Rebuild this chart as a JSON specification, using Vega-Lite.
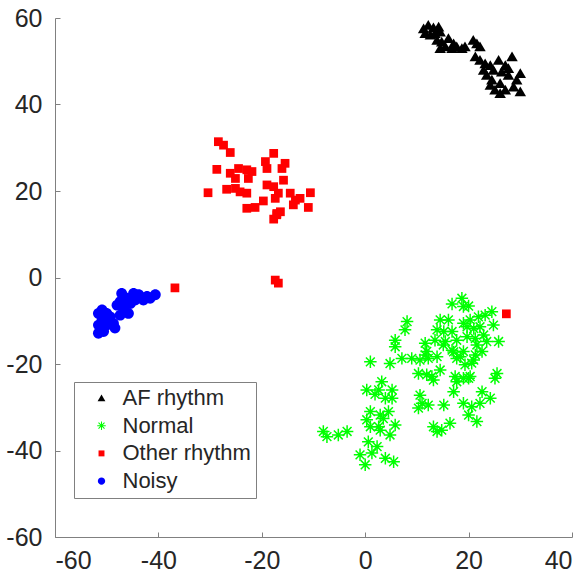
{
  "$schema": "https://vega.github.io/schema/vega-lite/v6.json",
  "width": 517,
  "height": 519,
  "autosize": {"type": "none"},
  "padding": {"left": 55, "top": 18, "right": 16, "bottom": 37},
  "background": "white",
  "config": {
    "view": {"stroke": null},
    "font": "Liberation Sans",
    "axis": {
      "domainColor": "#808080",
      "domainWidth": 1,
      "tickColor": "#808080",
      "tickWidth": 1,
      "tickSize": -5,
      "labelFontSize": 25,
      "labelColor": "#262626",
      "labelFont": "Liberation Sans",
      "labelExpr": "'' + datum.value",
      "grid": false,
      "title": null
    }
  },
  "data": {
    "values": [
      {"x": 11.3, "y": 57.6, "c": "AF rhythm"},
      {"x": 12.2, "y": 58.4, "c": "AF rhythm"},
      {"x": 13.2, "y": 57.8, "c": "AF rhythm"},
      {"x": 14.2, "y": 58.0, "c": "AF rhythm"},
      {"x": 11.6, "y": 56.5, "c": "AF rhythm"},
      {"x": 12.6, "y": 56.1, "c": "AF rhythm"},
      {"x": 13.5, "y": 56.5, "c": "AF rhythm"},
      {"x": 14.5, "y": 56.8, "c": "AF rhythm"},
      {"x": 13.9, "y": 54.9, "c": "AF rhythm"},
      {"x": 14.8, "y": 54.5, "c": "AF rhythm"},
      {"x": 14.5, "y": 53.0, "c": "AF rhythm"},
      {"x": 15.5, "y": 53.4, "c": "AF rhythm"},
      {"x": 16.1, "y": 55.3, "c": "AF rhythm"},
      {"x": 17.1, "y": 54.1, "c": "AF rhythm"},
      {"x": 17.7, "y": 53.4, "c": "AF rhythm"},
      {"x": 18.7, "y": 53.0, "c": "AF rhythm"},
      {"x": 19.3, "y": 53.4, "c": "AF rhythm"},
      {"x": 20.9, "y": 54.9, "c": "AF rhythm"},
      {"x": 21.6, "y": 54.1, "c": "AF rhythm"},
      {"x": 22.2, "y": 53.4, "c": "AF rhythm"},
      {"x": 21.3, "y": 51.1, "c": "AF rhythm"},
      {"x": 22.2, "y": 50.3, "c": "AF rhythm"},
      {"x": 23.2, "y": 49.5, "c": "AF rhythm"},
      {"x": 24.2, "y": 49.1, "c": "AF rhythm"},
      {"x": 22.9, "y": 48.0, "c": "AF rhythm"},
      {"x": 23.5, "y": 46.8, "c": "AF rhythm"},
      {"x": 24.5, "y": 45.7, "c": "AF rhythm"},
      {"x": 24.2, "y": 44.5, "c": "AF rhythm"},
      {"x": 25.1, "y": 43.4, "c": "AF rhythm"},
      {"x": 26.1, "y": 44.9, "c": "AF rhythm"},
      {"x": 25.8, "y": 50.3, "c": "AF rhythm"},
      {"x": 27.1, "y": 49.1, "c": "AF rhythm"},
      {"x": 28.4, "y": 51.1, "c": "AF rhythm"},
      {"x": 27.7, "y": 46.8, "c": "AF rhythm"},
      {"x": 29.3, "y": 45.7, "c": "AF rhythm"},
      {"x": 30.0, "y": 47.2, "c": "AF rhythm"},
      {"x": 28.7, "y": 44.1, "c": "AF rhythm"},
      {"x": 30.0, "y": 43.0, "c": "AF rhythm"},
      {"x": 27.1, "y": 43.4, "c": "AF rhythm"},
      {"x": 26.1, "y": 42.6, "c": "AF rhythm"},
      {"x": 27.7, "y": 48.4, "c": "AF rhythm"},
      {"x": 26.4, "y": 47.6, "c": "AF rhythm"},
      {"x": 24.8, "y": 48.0, "c": "AF rhythm"},
      {"x": 16.8, "y": 53.0, "c": "AF rhythm"},
      {"x": 16.8, "y": -6.1, "c": "Normal"},
      {"x": 18.7, "y": -4.8, "c": "Normal"},
      {"x": 19.0, "y": -6.7, "c": "Normal"},
      {"x": 20.0, "y": -6.6, "c": "Normal"},
      {"x": 24.5, "y": -7.9, "c": "Normal"},
      {"x": 23.2, "y": -8.7, "c": "Normal"},
      {"x": 21.9, "y": -9.1, "c": "Normal"},
      {"x": 20.3, "y": -9.8, "c": "Normal"},
      {"x": 19.0, "y": -10.6, "c": "Normal"},
      {"x": 8.1, "y": -10.2, "c": "Normal"},
      {"x": 7.7, "y": -12.1, "c": "Normal"},
      {"x": 14.5, "y": -9.8, "c": "Normal"},
      {"x": 16.1, "y": -9.8, "c": "Normal"},
      {"x": 13.9, "y": -12.1, "c": "Normal"},
      {"x": 15.2, "y": -12.5, "c": "Normal"},
      {"x": 16.8, "y": -12.5, "c": "Normal"},
      {"x": 19.7, "y": -11.4, "c": "Normal"},
      {"x": 21.0, "y": -11.8, "c": "Normal"},
      {"x": 22.2, "y": -11.4, "c": "Normal"},
      {"x": 24.8, "y": -11.0, "c": "Normal"},
      {"x": 5.8, "y": -14.5, "c": "Normal"},
      {"x": 5.8, "y": -16.0, "c": "Normal"},
      {"x": 11.6, "y": -15.2, "c": "Normal"},
      {"x": 13.5, "y": -14.5, "c": "Normal"},
      {"x": 15.5, "y": -14.8, "c": "Normal"},
      {"x": 17.7, "y": -14.5, "c": "Normal"},
      {"x": 19.7, "y": -13.7, "c": "Normal"},
      {"x": 21.3, "y": -14.1, "c": "Normal"},
      {"x": 22.9, "y": -13.3, "c": "Normal"},
      {"x": 23.5, "y": -14.8, "c": "Normal"},
      {"x": 25.8, "y": -14.8, "c": "Normal"},
      {"x": 21.6, "y": -15.6, "c": "Normal"},
      {"x": 22.6, "y": -17.1, "c": "Normal"},
      {"x": 1.0, "y": -19.5, "c": "Normal"},
      {"x": 4.8, "y": -19.9, "c": "Normal"},
      {"x": 7.1, "y": -18.7, "c": "Normal"},
      {"x": 9.0, "y": -18.7, "c": "Normal"},
      {"x": 10.6, "y": -19.1, "c": "Normal"},
      {"x": 12.2, "y": -18.7, "c": "Normal"},
      {"x": 13.9, "y": -18.3, "c": "Normal"},
      {"x": 11.9, "y": -17.1, "c": "Normal"},
      {"x": 16.8, "y": -16.8, "c": "Normal"},
      {"x": 19.0, "y": -17.1, "c": "Normal"},
      {"x": 17.7, "y": -18.7, "c": "Normal"},
      {"x": 21.0, "y": -19.1, "c": "Normal"},
      {"x": 19.3, "y": -20.2, "c": "Normal"},
      {"x": 10.3, "y": -22.2, "c": "Normal"},
      {"x": 11.9, "y": -22.5, "c": "Normal"},
      {"x": 13.2, "y": -23.7, "c": "Normal"},
      {"x": 14.5, "y": -21.4, "c": "Normal"},
      {"x": 17.4, "y": -22.9, "c": "Normal"},
      {"x": 19.0, "y": -23.3, "c": "Normal"},
      {"x": 20.3, "y": -22.9, "c": "Normal"},
      {"x": 17.7, "y": -24.1, "c": "Normal"},
      {"x": 25.5, "y": -22.2, "c": "Normal"},
      {"x": 25.1, "y": -23.3, "c": "Normal"},
      {"x": 0.3, "y": -26.0, "c": "Normal"},
      {"x": 3.2, "y": -24.1, "c": "Normal"},
      {"x": 2.6, "y": -26.0, "c": "Normal"},
      {"x": 5.2, "y": -26.0, "c": "Normal"},
      {"x": 3.9, "y": -27.9, "c": "Normal"},
      {"x": 5.2, "y": -27.9, "c": "Normal"},
      {"x": 10.6, "y": -27.2, "c": "Normal"},
      {"x": 11.0, "y": -29.1, "c": "Normal"},
      {"x": 10.3, "y": -30.2, "c": "Normal"},
      {"x": 12.2, "y": -29.5, "c": "Normal"},
      {"x": 15.2, "y": -29.5, "c": "Normal"},
      {"x": 17.1, "y": -26.4, "c": "Normal"},
      {"x": 19.0, "y": -29.1, "c": "Normal"},
      {"x": 20.6, "y": -29.9, "c": "Normal"},
      {"x": 22.6, "y": -26.4, "c": "Normal"},
      {"x": 22.2, "y": -29.1, "c": "Normal"},
      {"x": 24.2, "y": -27.9, "c": "Normal"},
      {"x": 20.0, "y": -31.8, "c": "Normal"},
      {"x": 21.6, "y": -33.3, "c": "Normal"},
      {"x": 1.0, "y": -31.0, "c": "Normal"},
      {"x": 2.9, "y": -31.8, "c": "Normal"},
      {"x": 4.5, "y": -31.0, "c": "Normal"},
      {"x": 0.3, "y": -32.9, "c": "Normal"},
      {"x": 3.5, "y": -32.6, "c": "Normal"},
      {"x": 5.8, "y": -34.1, "c": "Normal"},
      {"x": 4.8, "y": -36.4, "c": "Normal"},
      {"x": 1.0, "y": -34.5, "c": "Normal"},
      {"x": 2.6, "y": -34.5, "c": "Normal"},
      {"x": 13.2, "y": -34.5, "c": "Normal"},
      {"x": 14.8, "y": -35.3, "c": "Normal"},
      {"x": 16.4, "y": -33.7, "c": "Normal"},
      {"x": 13.9, "y": -35.6, "c": "Normal"},
      {"x": -8.1, "y": -35.6, "c": "Normal"},
      {"x": -7.4, "y": -36.8, "c": "Normal"},
      {"x": -5.2, "y": -36.4, "c": "Normal"},
      {"x": -3.5, "y": -35.6, "c": "Normal"},
      {"x": 0.6, "y": -38.0, "c": "Normal"},
      {"x": 2.3, "y": -39.1, "c": "Normal"},
      {"x": 1.3, "y": -40.6, "c": "Normal"},
      {"x": -1.0, "y": -41.0, "c": "Normal"},
      {"x": 0.0, "y": -43.3, "c": "Normal"},
      {"x": 3.9, "y": -41.8, "c": "Normal"},
      {"x": 5.5, "y": -42.6, "c": "Normal"},
      {"x": 1.9, "y": -27.0, "c": "Normal"},
      {"x": 2.9, "y": -35.3, "c": "Normal"},
      {"x": 11.6, "y": -17.9, "c": "Normal"},
      {"x": 15.1, "y": -15.6, "c": "Normal"},
      {"x": 17.1, "y": -17.2, "c": "Normal"},
      {"x": 18.4, "y": -18.3, "c": "Normal"},
      {"x": 21.3, "y": -17.9, "c": "Normal"},
      {"x": 20.6, "y": -19.8, "c": "Normal"},
      {"x": 12.9, "y": -22.9, "c": "Normal"},
      {"x": 20.0, "y": -23.3, "c": "Normal"},
      {"x": -28.4, "y": 31.4, "c": "Other rhythm"},
      {"x": -27.4, "y": 30.6, "c": "Other rhythm"},
      {"x": -26.1, "y": 28.9, "c": "Other rhythm"},
      {"x": -17.7, "y": 28.7, "c": "Other rhythm"},
      {"x": -19.3, "y": 26.8, "c": "Other rhythm"},
      {"x": -15.5, "y": 26.4, "c": "Other rhythm"},
      {"x": -28.7, "y": 25.0, "c": "Other rhythm"},
      {"x": -26.1, "y": 24.1, "c": "Other rhythm"},
      {"x": -24.5, "y": 25.2, "c": "Other rhythm"},
      {"x": -22.9, "y": 24.9, "c": "Other rhythm"},
      {"x": -21.9, "y": 24.5, "c": "Other rhythm"},
      {"x": -19.0, "y": 25.2, "c": "Other rhythm"},
      {"x": -16.1, "y": 25.2, "c": "Other rhythm"},
      {"x": -22.6, "y": 22.9, "c": "Other rhythm"},
      {"x": -25.1, "y": 22.9, "c": "Other rhythm"},
      {"x": -15.8, "y": 22.5, "c": "Other rhythm"},
      {"x": -19.0, "y": 21.4, "c": "Other rhythm"},
      {"x": -17.7, "y": 21.0, "c": "Other rhythm"},
      {"x": -26.8, "y": 20.4, "c": "Other rhythm"},
      {"x": -25.1, "y": 20.6, "c": "Other rhythm"},
      {"x": -24.2, "y": 19.8, "c": "Other rhythm"},
      {"x": -30.4, "y": 19.6, "c": "Other rhythm"},
      {"x": -16.8, "y": 19.5, "c": "Other rhythm"},
      {"x": -14.5, "y": 19.5, "c": "Other rhythm"},
      {"x": -10.6, "y": 19.6, "c": "Other rhythm"},
      {"x": -13.5, "y": 17.9, "c": "Other rhythm"},
      {"x": -12.6, "y": 18.3, "c": "Other rhythm"},
      {"x": -17.4, "y": 18.3, "c": "Other rhythm"},
      {"x": -22.9, "y": 19.5, "c": "Other rhythm"},
      {"x": -22.9, "y": 16.0, "c": "Other rhythm"},
      {"x": -21.3, "y": 16.2, "c": "Other rhythm"},
      {"x": -19.7, "y": 17.7, "c": "Other rhythm"},
      {"x": -13.9, "y": 16.8, "c": "Other rhythm"},
      {"x": -11.0, "y": 16.2, "c": "Other rhythm"},
      {"x": -17.1, "y": 14.5, "c": "Other rhythm"},
      {"x": -16.4, "y": 15.2, "c": "Other rhythm"},
      {"x": -17.7, "y": 13.5, "c": "Other rhythm"},
      {"x": -17.1, "y": 14.8, "c": "Other rhythm"},
      {"x": -17.4, "y": -0.6, "c": "Other rhythm"},
      {"x": -16.8, "y": -1.3, "c": "Other rhythm"},
      {"x": -36.8, "y": -2.4, "c": "Other rhythm"},
      {"x": 27.3, "y": -8.4, "c": "Other rhythm"},
      {"x": -51.6, "y": -12.9, "c": "Noisy"},
      {"x": -50.6, "y": -12.5, "c": "Noisy"},
      {"x": -51.6, "y": -11.0, "c": "Noisy"},
      {"x": -50.9, "y": -9.8, "c": "Noisy"},
      {"x": -51.6, "y": -8.3, "c": "Noisy"},
      {"x": -50.9, "y": -7.5, "c": "Noisy"},
      {"x": -50.0, "y": -8.3, "c": "Noisy"},
      {"x": -49.3, "y": -9.1, "c": "Noisy"},
      {"x": -48.7, "y": -10.6, "c": "Noisy"},
      {"x": -50.0, "y": -11.0, "c": "Noisy"},
      {"x": -49.7, "y": -9.8, "c": "Noisy"},
      {"x": -48.0, "y": -6.4, "c": "Noisy"},
      {"x": -47.4, "y": -5.6, "c": "Noisy"},
      {"x": -47.1, "y": -3.7, "c": "Noisy"},
      {"x": -46.7, "y": -7.1, "c": "Noisy"},
      {"x": -45.8, "y": -8.3, "c": "Noisy"},
      {"x": -45.4, "y": -6.0, "c": "Noisy"},
      {"x": -44.8, "y": -3.7, "c": "Noisy"},
      {"x": -43.8, "y": -4.0, "c": "Noisy"},
      {"x": -44.5, "y": -5.2, "c": "Noisy"},
      {"x": -42.9, "y": -5.2, "c": "Noisy"},
      {"x": -42.2, "y": -4.4, "c": "Noisy"},
      {"x": -40.6, "y": -4.0, "c": "Noisy"},
      {"x": -41.6, "y": -4.8, "c": "Noisy"},
      {"x": -48.4, "y": -11.7, "c": "Noisy"},
      {"x": -47.4, "y": -8.7, "c": "Noisy"},
      {"x": -46.1, "y": -4.8, "c": "Noisy"}
    ]
  },
  "mark": {"type": "point", "filled": true, "opacity": 1, "size": 156, "strokeWidth": 0},
  "encoding": {
    "x": {
      "field": "x", "type": "quantitative",
      "scale": {"domain": [-60, 40], "nice": false, "zero": false},
      "axis": {"values": [-60, -40, -20, 0, 20, 40], "labelPadding": 16}
    },
    "y": {
      "field": "y", "type": "quantitative",
      "scale": {"domain": [-60, 60], "nice": false, "zero": false},
      "axis": {"values": [-60, -40, -20, 0, 20, 40, 60], "labelPadding": 18}
    },
    "color": {
      "field": "c", "type": "nominal",
      "scale": {
        "domain": ["AF rhythm", "Normal", "Other rhythm", "Noisy"],
        "range": ["#000000", "#00ff00", "#ff0000", "#0000ff"]
      },
      "legend": {
        "title": null, "orient": "none", "legendX": 19, "legendY": 364,
        "labelFontSize": 22, "labelColor": "#262626", "labelFont": "Liberation Sans",
        "symbolSize": 72, "symbolStrokeWidth": 0, "symbolOffset": 11.5, "labelOffset": 10,
        "padding": 5, "rowPadding": 5.7, "strokeColor": "#808080", "fillColor": "white",
        "cornerRadius": 0
      }
    },
    "shape": {
      "field": "c", "type": "nominal",
      "scale": {
        "domain": ["AF rhythm", "Normal", "Other rhythm", "Noisy"],
        "range": [
          "M0,-0.8L0.92,0.76L-0.92,0.76Z",
          "M-1,-0.12H1V0.12H-1ZM-0.12,-1H0.12V1H-0.12ZM-0.622,-0.792L0.792,0.622L0.622,0.792L-0.792,-0.622ZM-0.792,0.622L0.622,-0.792L0.792,-0.622L-0.622,0.792Z",
          "M-0.7,-0.7H0.7V0.7H-0.7Z",
          "M-0.87,0A0.87,0.87,0,1,0,0.87,0A0.87,0.87,0,1,0,-0.87,0Z"
        ]
      },
      "legend": {
        "title": null, "orient": "none", "legendX": 19, "legendY": 364,
        "labelFontSize": 22, "labelColor": "#262626", "labelFont": "Liberation Sans",
        "symbolSize": 72, "symbolStrokeWidth": 0, "symbolOffset": 11.5, "labelOffset": 10,
        "padding": 5, "rowPadding": 5.7, "strokeColor": "#808080", "fillColor": "white",
        "cornerRadius": 0
      }
    }
  }
}
